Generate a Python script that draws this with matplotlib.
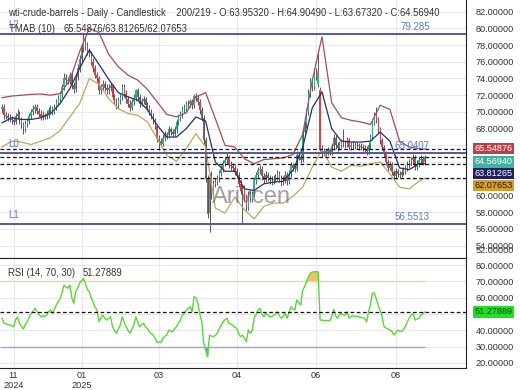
import matplotlib
matplotlib.use("Agg")
import matplotlib.pyplot as plt
import numpy as np

plt.rcParams['font.family'] = ['Liberation Sans', 'DejaVu Sans']

# candle data (daily, 219 bars)
opens = [
    70.3, 70.6, 69.6, 69.5, 69.3, 69.2, 69.0, 68.8, 69.5, 69.8,
    69.0, 68.5, 68.0, 68.6, 68.9, 69.5, 70.0, 70.3, 70.6, 70.1,
    69.8, 69.4, 69.6, 69.5, 69.7, 70.2, 70.4, 70.0, 70.6, 71.1,
    71.6, 72.1, 73.0, 74.1, 73.8, 73.7, 74.4, 73.2, 72.7, 74.2,
    75.2, 76.3, 77.6, 78.7, 77.9, 77.2, 77.0, 76.0, 75.2, 74.4,
    74.0, 72.6, 73.0, 73.4, 72.9, 72.6, 72.9, 73.1, 71.8, 71.3,
    70.8, 71.4, 71.8, 73.0, 72.2, 71.5, 71.0, 70.5, 71.2, 71.7,
    72.6, 71.8, 71.0, 71.3, 71.5, 70.8, 70.5, 70.0, 69.5, 69.0,
    68.3, 66.8, 66.5, 66.2, 66.9, 67.3, 67.2, 67.9, 67.6, 67.4,
    67.9, 68.8, 69.3, 69.7, 70.3, 70.5, 70.9, 71.0, 71.3, 70.8,
    71.9, 71.7, 71.2, 70.2, 69.3, 66.6, 62.0, 57.9, 62.2, 60.3,
    61.4, 61.6, 62.0, 62.7, 63.2, 63.9, 64.2, 64.6, 63.7, 63.5,
    63.3, 62.9, 62.5, 61.4, 60.6, 60.8, 59.8, 58.6, 60.2, 59.6,
    60.2, 61.8, 62.4, 63.0, 63.2, 62.3, 61.9, 62.4, 62.1, 61.8,
    61.8, 62.0, 62.2, 62.6, 62.0, 61.6, 61.9, 62.5, 61.7, 62.6,
    63.6, 63.3, 63.2, 64.9, 64.6, 64.3, 67.6, 68.5, 70.0, 72.2,
    73.6, 73.0, 74.8, 73.4, 72.6, 65.6, 65.0, 65.3, 65.1, 65.4,
    65.2, 65.9, 66.9, 66.0, 65.7, 66.1, 66.4, 66.2, 66.1, 66.6,
    65.8, 66.0, 66.1, 66.0, 66.0, 65.9, 65.8, 65.7, 65.6, 65.3,
    66.0, 67.0, 68.8, 69.6, 69.1, 67.9, 66.6, 65.8, 65.0, 64.0,
    63.3, 63.7, 62.8, 62.3, 62.9, 62.6, 62.5, 62.8, 63.0, 63.3,
    63.7, 64.0, 64.2, 64.6, 63.4, 63.8, 64.2, 64.4, 63.9532,
]
highs = [
    71.0, 70.9, 70.0, 69.9, 69.8, 69.5, 69.4, 69.9, 70.3, 70.1,
    69.4, 68.8, 69.0, 69.3, 69.9, 70.4, 70.8, 71.0, 70.9, 70.5,
    70.2, 70.1, 69.9, 70.2, 70.6, 70.8, 70.7, 71.0, 71.5, 72.0,
    72.5, 73.4, 74.6, 74.5, 74.2, 74.8, 74.7, 73.6, 74.6, 75.7,
    76.8, 78.1, 79.4, 79.1, 78.4, 77.6, 77.3, 76.4, 75.6, 74.8,
    74.3, 73.4, 73.8, 73.7, 73.3, 73.3, 73.5, 73.4, 72.2, 71.7,
    71.8, 72.2, 73.4, 73.3, 72.6, 71.9, 71.4, 71.6, 72.1, 72.8,
    72.9, 72.1, 71.7, 71.9, 71.8, 71.2, 70.8, 70.3, 69.9, 69.3,
    68.6, 67.2, 66.9, 67.3, 67.7, 67.6, 68.3, 68.2, 68.0, 68.3,
    69.1, 69.7, 70.1, 70.7, 70.9, 71.3, 71.4, 71.6, 71.6, 72.2,
    72.3, 72.0, 71.5, 70.6, 69.6, 67.0, 62.4, 62.7, 62.9, 61.9,
    62.1, 62.5, 63.1, 63.6, 64.3, 64.6, 65.1, 64.9, 64.1, 63.9,
    63.6, 63.3, 62.8, 61.8, 61.2, 61.2, 60.2, 60.6, 60.5, 60.6,
    62.2, 62.8, 63.4, 63.7, 63.5, 62.7, 62.9, 62.8, 62.5, 62.3,
    62.4, 62.6, 63.0, 62.9, 62.4, 62.3, 62.9, 62.8, 63.0, 64.0,
    63.9, 63.7, 65.3, 65.2, 65.0, 68.0, 68.9, 70.5, 72.7, 74.1,
    74.0, 75.3, 75.2, 77.4, 73.0, 66.0, 65.7, 65.6, 65.8, 65.7,
    66.3, 67.3, 67.2, 66.4, 66.5, 66.8, 68.0, 66.6, 67.0, 66.9,
    66.4, 66.5, 66.4, 66.4, 66.3, 66.3, 66.2, 66.1, 65.9, 66.4,
    67.4, 69.2, 70.0, 70.6, 69.4, 68.2, 66.9, 66.1, 65.3, 64.4,
    64.1, 64.0, 63.1, 63.3, 63.2, 62.9, 63.2, 63.4, 63.7, 64.1,
    64.4, 64.6, 65.0, 64.9, 64.2, 64.6, 64.8, 64.7, 64.9049,
]
lows = [
    69.9, 69.2, 69.1, 68.9, 68.8, 68.6, 68.4, 68.5, 69.1, 68.6,
    68.1, 67.3, 67.6, 68.2, 68.5, 69.1, 69.6, 69.9, 69.7, 69.4,
    69.0, 69.0, 69.1, 69.2, 69.3, 69.8, 69.6, 69.7, 70.2, 70.7,
    71.2, 71.7, 72.6, 73.4, 73.3, 73.3, 72.8, 72.3, 72.4, 73.8,
    74.8, 75.9, 77.2, 77.4, 76.8, 76.6, 75.6, 74.8, 74.0, 73.6,
    72.2, 72.2, 72.6, 72.5, 72.2, 72.2, 72.5, 71.4, 70.9, 70.4,
    70.4, 71.0, 71.4, 71.8, 71.1, 70.6, 70.1, 70.2, 70.8, 71.3,
    71.4, 70.6, 70.7, 70.9, 70.4, 70.1, 69.6, 69.1, 68.6, 67.9,
    66.4, 65.4, 65.8, 65.9, 66.5, 66.8, 66.9, 67.2, 67.0, 67.1,
    67.5, 68.4, 68.9, 69.3, 69.9, 70.1, 70.5, 70.6, 70.4, 70.5,
    71.3, 70.8, 69.8, 68.9, 66.2, 61.6, 57.3, 55.6, 59.6, 59.9,
    61.0, 61.2, 61.6, 62.3, 62.8, 63.5, 63.8, 63.3, 63.1, 62.9,
    62.5, 62.1, 61.0, 60.2, 56.7, 59.4, 58.1, 58.3, 59.2, 59.2,
    59.9, 61.4, 62.0, 62.6, 61.9, 61.5, 61.6, 61.7, 61.4, 61.3,
    61.4, 61.6, 61.8, 61.6, 61.1, 61.2, 61.5, 61.3, 61.4, 62.2,
    62.9, 62.8, 62.9, 64.2, 63.9, 64.0, 67.2, 68.1, 69.6, 71.8,
    72.5, 72.6, 73.8, 73.0, 65.3, 64.6, 64.7, 64.7, 64.8, 64.8,
    64.9, 65.5, 65.6, 65.3, 65.4, 65.7, 65.8, 65.7, 65.8, 65.4,
    65.5, 65.6, 65.6, 65.6, 65.5, 65.4, 65.3, 65.2, 64.9, 65.0,
    65.6, 66.6, 68.4, 68.7, 67.5, 66.2, 65.4, 64.6, 63.6, 62.9,
    63.0, 62.4, 61.9, 62.0, 62.2, 62.1, 62.2, 62.4, 62.6, 62.9,
    63.3, 63.6, 63.8, 63.0, 63.0, 63.4, 63.8, 63.6, 63.6732,
]
closes = [
    70.6, 69.6, 69.5, 69.3, 69.2, 69.0, 68.8, 69.5, 69.8, 69.0,
    68.5, 68.0, 68.6, 68.9, 69.5, 70.0, 70.3, 70.6, 70.1, 69.8,
    69.4, 69.6, 69.5, 69.7, 70.2, 70.4, 70.0, 70.6, 71.1, 71.6,
    72.1, 73.0, 74.1, 73.8, 73.7, 74.4, 73.2, 72.7, 74.2, 75.2,
    76.3, 77.6, 78.7, 77.9, 77.2, 77.0, 76.0, 75.2, 74.4, 74.0,
    72.6, 73.0, 73.4, 72.9, 72.6, 72.9, 73.1, 71.8, 71.3, 70.8,
    71.4, 71.8, 73.0, 72.2, 71.5, 71.0, 70.5, 71.2, 71.7, 72.6,
    71.8, 71.0, 71.3, 71.5, 70.8, 70.5, 70.0, 69.5, 69.0, 68.3,
    66.8, 66.5, 66.2, 66.9, 67.3, 67.2, 67.9, 67.6, 67.4, 67.9,
    68.8, 69.3, 69.7, 70.3, 70.5, 70.9, 71.0, 71.3, 70.8, 71.9,
    71.7, 71.2, 70.2, 69.3, 66.6, 62.0, 57.8, 62.2, 60.3, 61.4,
    61.6, 62.0, 62.7, 63.2, 63.9, 64.2, 64.6, 63.7, 63.5, 63.3,
    62.9, 62.5, 61.4, 60.6, 60.8, 59.8, 58.6, 60.2, 59.6, 60.2,
    61.8, 62.4, 63.0, 63.2, 62.3, 61.9, 62.4, 62.1, 61.8, 61.8,
    62.0, 62.2, 62.6, 62.0, 61.6, 61.9, 62.5, 61.7, 62.6, 63.6,
    63.3, 63.2, 64.9, 64.6, 64.3, 67.6, 68.5, 70.0, 72.2, 73.6,
    73.0, 74.8, 74.2, 74.9, 65.6, 65.0, 65.3, 65.1, 65.4, 65.2,
    65.9, 66.9, 66.0, 65.7, 66.1, 66.4, 66.2, 66.1, 66.6, 65.8,
    66.0, 66.1, 66.0, 66.0, 65.9, 65.8, 65.7, 65.6, 65.3, 66.0,
    67.0, 68.8, 69.6, 69.1, 67.9, 66.6, 65.8, 65.0, 64.0, 63.3,
    63.7, 62.8, 62.3, 62.9, 62.6, 62.5, 62.8, 63.0, 63.3, 63.7,
    64.0, 64.2, 64.6, 63.4, 63.8, 64.2, 64.4, 63.95, 64.5694,
]

# TMAB(10) bands, read every 5 bars
band_idx = list(range(0, 216, 5)) + [218]
band_upper = [
    71.7, 71.9, 72.0, 72.1, 72.15, 72.0, 72.2, 73.8, 77.2, 80.0,
    79.5, 76.9, 75.4, 74.4, 73.8, 72.7, 71.2, 69.7, 69.4, 69.9,
    71.8, 72.3, 69.2, 66.0, 65.8, 64.4, 63.8, 64.3, 64.4, 64.5,
    64.9, 67.3, 73.8, 79.0, 71.1, 69.3, 69.0, 68.8, 68.5, 70.8,
    70.3, 66.5, 65.8, 65.6, 65.54876,
]
band_mid = [
    68.7, 69.3, 69.1, 69.1, 69.3, 69.8, 71.0, 72.8, 75.2, 77.4,
    75.7, 73.9, 72.3, 71.8, 71.4, 70.3, 68.4, 67.0, 67.0, 68.0,
    69.4, 68.9, 64.0, 62.9, 62.9, 60.8, 60.6, 61.4, 61.6, 61.7,
    63.0, 65.7, 70.5, 72.4, 68.0, 66.5, 66.4, 66.4, 66.5, 67.6,
    66.5, 63.3, 63.1, 63.8, 63.81265,
]
band_lower = [
    65.8, 66.5, 66.4, 66.1, 66.5, 66.9, 67.8, 69.4, 71.0, 74.0,
    73.3, 71.6, 70.4, 69.8, 69.6, 68.8, 66.8, 64.8, 64.1, 65.6,
    67.4, 65.8, 58.5, 57.9, 59.8, 58.3, 57.2, 58.7, 59.1, 59.1,
    59.9, 61.0, 63.4, 65.5, 63.4, 62.9, 63.6, 63.5, 63.8, 64.0,
    62.6, 61.0, 60.8, 61.7, 62.07653,
]

# RSI(14)
rsi = [
    47.4, 44.3, 44.0, 43.6, 43.3, 42.9, 42.2, 46.5, 48.3, 44.3,
    42.5, 40.8, 43.5, 45.3, 48.0, 50.4, 52.0, 53.5, 51.5, 50.0,
    48.3, 49.0, 48.5, 49.3, 51.5, 52.5, 50.4, 53.0, 55.5, 57.5,
    59.6, 63.5, 67.8, 66.5, 65.8, 67.8, 60.0, 56.5, 63.7, 66.0,
    68.8, 70.5, 71.9, 68.8, 65.0, 63.7, 60.0, 57.5, 54.0, 52.5,
    45.3, 47.5, 49.3, 47.5, 46.3, 47.5, 48.3, 42.2, 40.0, 38.2,
    41.0, 43.3, 48.3, 45.0, 42.2, 40.0, 38.2, 41.0, 43.3, 48.3,
    45.0, 42.2, 43.5, 44.3, 42.0, 41.2, 39.1, 38.0, 37.1, 35.0,
    32.6, 32.8, 32.6, 35.1, 36.5, 37.1, 40.2, 39.5, 39.1, 41.0,
    42.2, 44.5, 46.3, 49.3, 50.5, 52.5, 53.5, 54.5, 51.4, 60.6,
    60.0, 56.5, 50.0, 45.3, 32.0, 28.0, 23.8, 37.1, 36.5, 36.1,
    37.0, 38.2, 41.2, 43.0, 45.3, 46.5, 47.4, 44.3, 43.8, 43.3,
    42.0, 41.2, 38.0, 36.1, 37.1, 35.0, 33.0, 40.2, 38.2, 40.0,
    47.4, 50.0, 52.5, 53.5, 50.0, 48.3, 50.4, 49.5, 48.3, 48.3,
    49.3, 50.0, 51.4, 49.0, 47.4, 48.5, 50.4, 47.4, 51.0, 54.5,
    53.0, 52.5, 58.6, 57.0, 55.5, 64.7, 66.7, 70.0, 72.8, 75.0,
    75.8, 75.9, 75.9, 75.9, 46.3, 46.3, 46.0, 45.9, 46.1, 45.9,
    48.3, 52.9, 49.0, 47.4, 49.5, 50.4, 49.5, 49.3, 51.4, 47.4,
    48.5, 48.9, 48.5, 48.5, 48.3, 48.0, 47.6, 47.4, 45.3, 51.4,
    56.0, 62.7, 63.0, 59.0, 55.5, 52.0, 48.3, 42.2, 41.5, 40.8,
    40.2, 39.5, 37.1, 38.5, 40.2, 39.5, 39.2, 40.6, 42.5, 45.3,
    47.5, 49.4, 50.4, 46.3, 47.0, 47.4, 49.4, 50.2, 51.27889,
]

level_names = ['L2', 'L0', 'L1']
level_values = [79.285, 65.0407, 56.5513]
level_texts = ['79.285', '65.0407', '56.5513']
last_values = [65.54876, 64.5694, 63.81265, 62.07653]
last_texts = ['65.54876', '64.56940', '63.81265', '62.07653']
rsi_last = 51.27889
price_ticks = [54, 56, 58, 60, 66, 68, 70, 72, 74, 76, 78, 80, 82]
price_grid = list(range(54, 83, 2))
rsi_ticks = [20, 30, 40, 60, 70, 80]
tick_pos = [6, 41, 81, 121, 162, 203]
tick_labels = ['11\n2024', '01\n2025', '03', '04', '06', '08']

GREEN = '#2fb08c'
RED = '#d8414c'
GRID = '#e9e9e9'
LVL = '#5656a6'
LVL_TXT = '#5a7bd0'
TXT = '#333333'
FS = 6.6

o = np.array(opens)
h = np.array(highs)
l = np.array(lows)
c = np.array(closes)
x = np.arange(len(c))

fig = plt.figure(figsize=(5.2, 3.9), dpi=100)
ax = fig.add_axes([0, 0.3377, 0.896, 0.6623])
ax2 = fig.add_axes([0, 0.0556, 0.896, 0.2821], sharex=ax)

# --- price panel ---
ax.set_xlim(-1.03, 239.2)
ax.set_ylim(52.49, 83.39)
ax.set_yticks(price_ticks)
ax.set_yticks(price_grid, minor=True)
ax.yaxis.tick_right()
ax.yaxis.set_major_formatter(plt.FormatStrFormatter('%.5f'))
ax.tick_params(axis='y', which='both', length=0, pad=7, labelsize=FS, labelcolor=TXT)
ax.tick_params(axis='x', length=0, labelbottom=False)
ax.set_xticks(tick_pos)
ax.grid(True, which='both', color=GRID, lw=0.8)
ax.set_axisbelow(True)
for s in ['top', 'left']:
    ax.spines[s].set_visible(False)
ax.spines['right'].set_color('#222')
ax.spines['bottom'].set_color('#222')

up = c >= o
ax.vlines(x, l, h, color='#2a2a2a', lw=0.55, zorder=2)
ax.bar(x[up], (c - o)[up], bottom=o[up], width=0.7, color=GREEN, zorder=3)
ax.bar(x[~up], (c - o)[~up], bottom=o[~up], width=0.7, color=RED, zorder=3)

ax.plot(band_idx, band_upper, color='#9e4f5c', lw=0.9, zorder=4)
ax.plot(band_idx, band_mid, color='#2b2d6b', lw=0.9, zorder=4)
ax.plot(band_idx, band_lower, color='#b9a865', lw=0.9, zorder=4)

for name, v, t in zip(level_names, level_values, level_texts):
    ax.axhline(v, color=LVL, lw=1.4, zorder=5)
    ax.text(3, v + 0.55, name, color=LVL_TXT, fontsize=7, va='bottom', zorder=6)
    ax.text(220.5, v + 0.3, t, color=LVL_TXT, fontsize=7, ha='right', va='bottom', zorder=6)

for v in last_values:
    ax.axhline(v, color='#111', lw=0.9, ls=(0, (3, 2)), zorder=5)

box_cols = ['#b8404a', '#3db39c', '#1f2062', '#d69d2e']
box_txt = ['white', 'white', 'white', '#2a2000']
box_y = [65.62, 64.01, 62.63, 61.2]
for t, yv, bc, tc in zip(last_texts, box_y, box_cols, box_txt):
    ax.annotate(t, xy=(1.018, yv), xycoords=('axes fraction', 'data'),
                fontsize=FS, color=tc, va='center', ha='left', annotation_clip=False,
                bbox=dict(boxstyle='square,pad=0.15', fc=bc, ec='none'), zorder=8)

ax.annotate('52.00000', xy=(1.021, 53.48), xycoords=('axes fraction', 'data'),
            fontsize=FS, color=TXT, va='center', annotation_clip=False)
ax.annotate('84.00000', xy=(1.021, 84.0), xycoords=('axes fraction', 'data'),
            fontsize=FS, color=TXT, va='center', annotation_clip=False)

# watermark
ax.text(108.5, 59.1, 'Arivcen', fontsize=17, color='#555555', alpha=0.55,
        va='baseline', zorder=7)

# --- RSI panel ---
r = np.array(rsi)
ax2.set_ylim(16.7, 84.2)
ax2.set_yticks(rsi_ticks)
ax2.set_yticks([50], minor=True)
ax2.yaxis.tick_right()
ax2.yaxis.set_major_formatter(plt.FormatStrFormatter('%.5f'))
ax2.tick_params(axis='y', which='both', length=0, pad=7, labelsize=FS, labelcolor=TXT)
ax2.set_xticks(tick_pos)
ax2.set_xticklabels(tick_labels)
ax2.tick_params(axis='x', length=0, pad=2, labelsize=FS, labelcolor=TXT)
ax2.grid(True, which='both', color=GRID, lw=0.8)
ax2.set_axisbelow(True)
ax2.spines['left'].set_visible(False)
for s in ['top', 'right', 'bottom']:
    ax2.spines[s].set_color('#222')

ax2.hlines(70, -1.03, x[-1], color='#f4d59c', lw=1)
ax2.hlines(30, -1.03, x[-1], color='#a3a3e2', lw=1)
ax2.fill_between(x, r, 70, where=r > 70, interpolate=True, color='#f3c062', lw=0)
ax2.fill_between(x, r, 30, where=r < 30, interpolate=True, color='#7d84d0', lw=0)
ax2.plot(x, r, color='#5ad63c', lw=1)
ax2.axhline(rsi_last, color='#111', lw=0.9, ls=(0, (3, 2)))
ax2.annotate('51.27889', xy=(1.018, rsi_last), xycoords=('axes fraction', 'data'),
             fontsize=FS, color='#0c4d0c', va='center', ha='left', annotation_clip=False,
             bbox=dict(boxstyle='square,pad=0.15', fc='#22e026', ec='none'))

# --- header texts ---
fig.text(8 / 520, 1 - 12.7 / 390,
         'wti-crude-barrels - Daily - Candlestick    200/219 - O:63.95320 - H:64.90490 - L:63.67320 - C:64.56940',
         fontsize=6.85, color=TXT, va='center')
fig.text(9 / 520, 1 - 29.3 / 390, 'TMAB (10)', fontsize=6.85, color=TXT, va='center')
fig.text(63 / 520, 1 - 29.3 / 390, '65.54876/63.81265/62.07653', fontsize=6.85, color=TXT, va='center')
fig.text(8 / 520, 1 - 273.3 / 390, 'RSI (14, 70, 30)', fontsize=6.85, color=TXT, va='center')
fig.text(83 / 520, 1 - 273.3 / 390, '51.27889', fontsize=6.85, color=TXT, va='center')

fig.savefig('out.png', dpi=100)
